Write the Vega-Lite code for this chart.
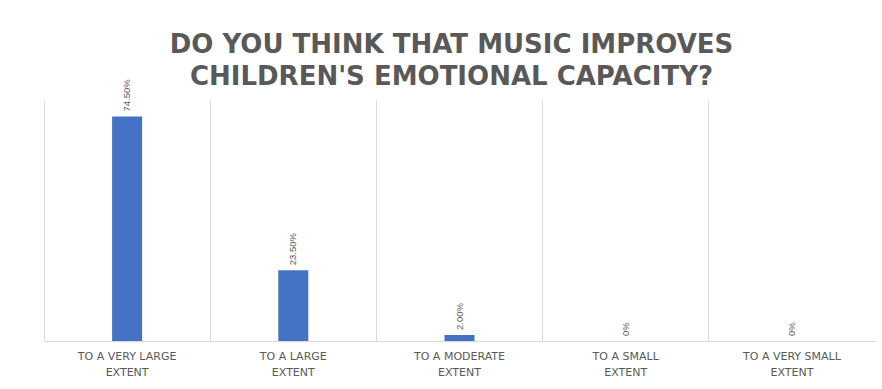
{
  "$schema": "https://vega.github.io/schema/vega-lite/v6.json",
  "autosize": "none",
  "width": 831,
  "height": 241,
  "padding": {"left": 44, "top": 100, "right": 7, "bottom": 48},
  "background": "white",
  "title": {
    "text": ["DO YOU THINK THAT MUSIC IMPROVES", "CHILDREN'S EMOTIONAL CAPACITY?"],
    "font": "DejaVu Sans",
    "fontSize": 26,
    "fontWeight": "bold",
    "color": "#595959",
    "lineHeight": 32,
    "anchor": "middle",
    "dx": -8,
    "offset": -11
  },
  "data": {
    "values": [
      {"category": "TO A VERY LARGE EXTENT", "value": 74.5, "label": "74.50%"},
      {"category": "TO A LARGE EXTENT", "value": 23.5, "label": "23.50%"},
      {"category": "TO A MODERATE EXTENT", "value": 2.0, "label": "2.00%"},
      {"category": "TO A SMALL EXTENT", "value": 0, "label": "0%"},
      {"category": "TO A VERY SMALL EXTENT", "value": 0, "label": "0%"}
    ]
  },
  "encoding": {
    "x": {
      "field": "category",
      "type": "nominal",
      "sort": null,
      "scale": {"paddingInner": 0, "paddingOuter": 0},
      "axis": {
        "title": null,
        "labelAngle": 0,
        "labelExpr": "datum.value == 'TO A VERY LARGE EXTENT' ? ['TO A VERY LARGE', 'EXTENT'] : datum.value == 'TO A LARGE EXTENT' ? ['TO A LARGE', 'EXTENT'] : datum.value == 'TO A MODERATE EXTENT' ? ['TO A MODERATE', 'EXTENT'] : datum.value == 'TO A SMALL EXTENT' ? ['TO A SMALL', 'EXTENT'] : ['TO A VERY SMALL', 'EXTENT']",
        "labelFont": "DejaVu Sans",
        "labelFontSize": 11,
        "labelColor": "#595959",
        "labelLineHeight": 16,
        "labelPadding": 9,
        "ticks": false,
        "domainColor": "#d9d9d9",
        "grid": true,
        "gridColor": "#d9d9d9",
        "bandPosition": 0
      }
    },
    "y": {
      "field": "value",
      "type": "quantitative",
      "scale": {"domain": [0, 80]},
      "axis": null
    }
  },
  "layer": [
    {
      "mark": {"type": "bar", "width": 30, "color": "#4472C4"}
    },
    {
      "mark": {
        "type": "text",
        "angle": 270,
        "align": "left",
        "baseline": "middle",
        "dx": 5,
        "font": "Liberation Sans",
        "fontSize": 9.5,
        "color": "#595959"
      },
      "encoding": {"text": {"field": "label"}}
    }
  ],
  "config": {
    "view": {"stroke": null}
  }
}
